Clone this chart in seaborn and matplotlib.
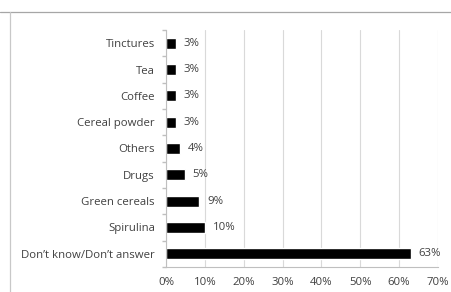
import numpy as np
import pandas as pd
import seaborn as sns
import matplotlib.pyplot as plt
from matplotlib.lines import Line2D

sns.set_theme(style="white")
plt.rcParams["font.family"] = ["Open Sans", "DejaVu Sans"]

categories = ["Tinctures", "Tea", "Coffee", "Cereal powder", "Others", "Drugs",
              "Green cereals", "Spirulina", "Don\u2019t know/Don\u2019t answer"]
values = [2.6, 2.6, 2.6, 2.6, 3.6, 4.8, 8.6, 10.0, 63.0]
x_ticks = [0, 10, 20, 30, 40, 50, 60, 70]

df = pd.DataFrame({"category": categories, "value": values})

fig = plt.figure(figsize=(4.51, 2.92), dpi=100)
ax = fig.add_axes([166 / 451, 1 - 267 / 292, (438 - 166) / 451, (267 - 30) / 292])

sns.barplot(data=df, x="value", y="category", color="black", width=0.42,
            saturation=1, ax=ax)

ax.set_xlim(0, 70)
ax.set_ylim(len(categories) - 0.5, -0.5)
ax.set_xticks(x_ticks)
ax.set_xticklabels([f"{t}%" for t in x_ticks])
ax.set_xlabel("")
ax.set_ylabel("")
ax.grid(axis="x", color="#d9d9d9", linewidth=0.8)
ax.set_axisbelow(True)

for s in ["top", "right"]:
    ax.spines[s].set_visible(False)
for s in ["left", "bottom"]:
    ax.spines[s].set_color("#bfbfbf")
    ax.spines[s].set_linewidth(0.8)

ax.tick_params(axis="x", length=3, color="#bfbfbf", labelsize=8.2,
               labelcolor="#404040", pad=4)
ax.tick_params(axis="y", length=0, labelsize=8.2, labelcolor="#404040", pad=8)
ax.set_yticks(np.arange(-0.5, len(categories), 1), minor=True)
ax.tick_params(axis="y", which="minor", length=3, color="#bfbfbf", left=True)

for i, v in enumerate(values):
    ax.text(v + 2.0, i, f"{v:.0f}%", va="center", ha="left",
            fontsize=8.2, color="#404040")

# frame lines of the surrounding cell
fig.add_artist(Line2D([0, 1], [1 - 12 / 292, 1 - 12 / 292], color="#a6a6a6",
                      linewidth=0.9, transform=fig.transFigure))
fig.add_artist(Line2D([10 / 451, 10 / 451], [0, 1 - 12 / 292], color="#c8c8c8",
                      linewidth=0.9, transform=fig.transFigure))

fig.savefig("out.png", dpi=100)
